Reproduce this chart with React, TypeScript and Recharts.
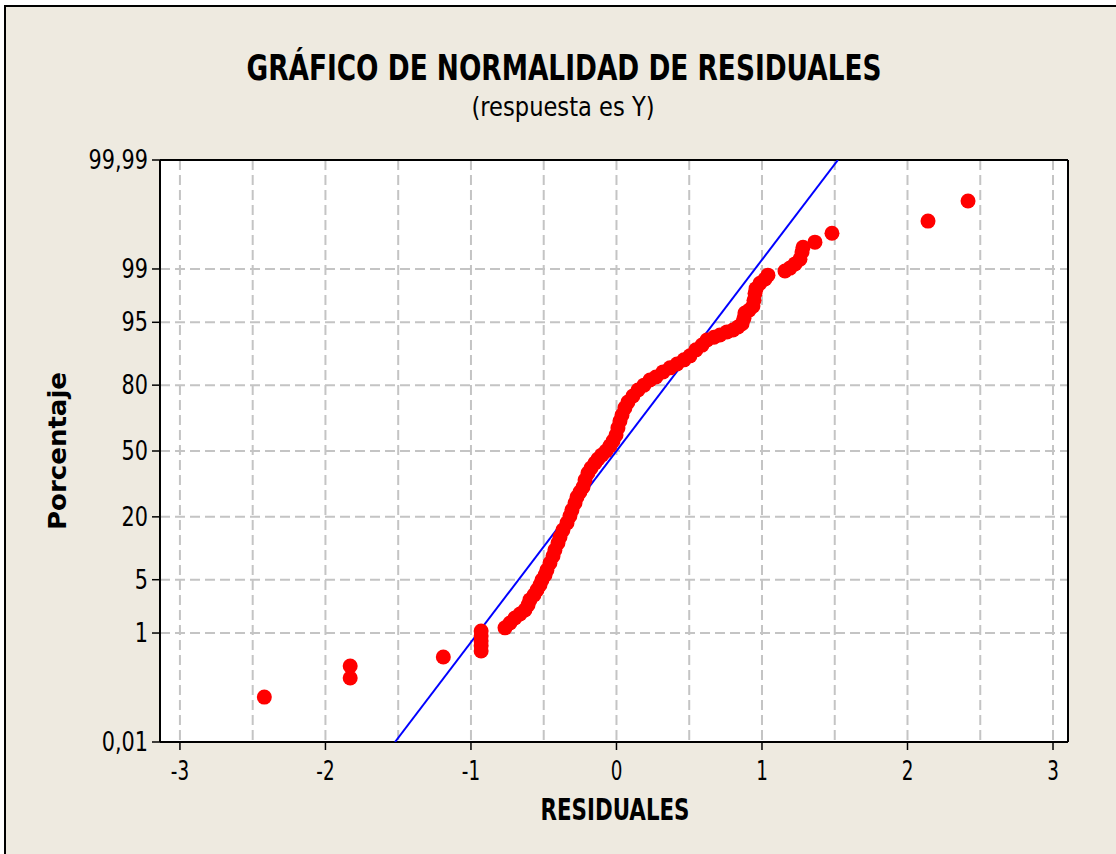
import React from 'react';
import { ScatterChart, Scatter, XAxis, YAxis, CartesianGrid, ReferenceLine } from 'recharts';

// residual, percent
const lowTail: [number, number][] = [
  [-2.42, 0.083],
  [-1.83, 0.186],
  [-1.83, 0.3],
  [-1.19, 0.423],
  [-0.93, 0.53],
  [-0.93, 0.64],
  [-0.93, 0.76],
  [-0.93, 0.9],
  [-0.93, 1.07],
];

const body: [number, number][] = [
  [-0.766, 1.19], [-0.732, 1.4], [-0.698, 1.64], [-0.663, 1.86], [-0.629, 2.11],
  [-0.608, 2.45], [-0.595, 2.85], [-0.567, 3.29], [-0.546, 3.79], [-0.526, 4.34],
  [-0.512, 4.96], [-0.491, 5.65], [-0.478, 6.41], [-0.457, 7.62], [-0.436, 8.98],
  [-0.423, 10.3], [-0.402, 12.0], [-0.388, 13.6], [-0.368, 15.6], [-0.34, 17.9],
  [-0.32, 20.3], [-0.306, 22.5], [-0.285, 25.3], [-0.271, 27.8], [-0.251, 30.0],
  [-0.23, 32.3], [-0.216, 35.5], [-0.196, 38.9], [-0.175, 41.4], [-0.148, 43.9],
  [-0.127, 45.9], [-0.1, 48.0], [-0.072, 50.0], [-0.045, 52.6], [-0.024, 55.1],
  [-0.003, 58.1], [0.01, 61.6], [0.024, 64.9], [0.038, 67.7], [0.058, 70.9],
  [0.079, 73.4], [0.113, 75.9], [0.148, 78.2], [0.189, 80.0], [0.23, 81.8],
  [0.271, 82.8], [0.32, 84.4], [0.368, 85.6], [0.416, 86.7], [0.464, 87.8],
  [0.505, 88.8], [0.546, 90.2], [0.588, 91.2], [0.622, 92.2], [0.67, 92.7],
  [0.711, 93.1], [0.759, 93.6], [0.801, 93.9], [0.835, 94.35], [0.863, 94.8],
  [0.876, 95.5], [0.883, 96.1], [0.911, 96.4], [0.938, 96.8], [0.945, 97.3],
  [0.952, 97.8], [0.959, 98.1], [0.986, 98.4], [1.021, 98.6], [1.041, 98.77],
];

const highTail: [number, number][] = [
  [1.158, 98.93], [1.192, 99.03], [1.227, 99.16], [1.261, 99.29], [1.275, 99.45],
  [1.282, 99.54], [1.364, 99.62], [1.481, 99.73], [2.141, 99.835], [2.416, 99.93],
];

// fitted normal line (residual, percent)
const fitLine: [number, number][] = [
  [-1.522, 0.01],
  [1.522, 99.99],
];

const xTicks = [-3, -2, -1, 0, 1, 2, 3];
const xGrid = [-3, -2.5, -2, -1.5, -1, -0.5, 0, 0.5, 1, 1.5, 2, 2.5, 3];
const yTickPercents = [0.01, 1, 5, 20, 50, 80, 95, 99, 99.99];
const yTickLabels = ['0,01', '1', '5', '20', '50', '80', '95', '99', '99,99'];

// inverse normal cdf (Acklam)
function probit(p: number) {
  const a = [-39.69683028665376, 220.9460984245205, -275.9285104469687, 138.357751867269, -30.66479806614716, 2.506628277459239];
  const b = [-54.47609879822406, 161.5858368580409, -155.6989798598866, 66.80131188771972, -13.28068155288572];
  const c = [-0.007784894002430293, -0.3223964580411365, -2.400758277161838, -2.549732539343734, 4.374664141464968, 2.938163982698783];
  const d = [0.007784695709041462, 0.3224671290700398, 2.445134137142996, 3.754408661907416];
  const pl = 0.02425;
  if (p < pl) {
    const q = Math.sqrt(-2 * Math.log(p));
    return (((((c[0] * q + c[1]) * q + c[2]) * q + c[3]) * q + c[4]) * q + c[5]) / ((((d[0] * q + d[1]) * q + d[2]) * q + d[3]) * q + 1);
  }
  if (p <= 1 - pl) {
    const q = p - 0.5;
    const r = q * q;
    return ((((((a[0] * r + a[1]) * r + a[2]) * r + a[3]) * r + a[4]) * r + a[5]) * q) / (((((b[0] * r + b[1]) * r + b[2]) * r + b[3]) * r + b[4]) * r + 1);
  }
  const q = Math.sqrt(-2 * Math.log(1 - p));
  return -(((((c[0] * q + c[1]) * q + c[2]) * q + c[3]) * q + c[4]) * q + c[5]) / ((((d[0] * q + d[1]) * q + d[2]) * q + d[3]) * q + 1);
}

const toPoints = (rows: [number, number][]) => rows.map(([r, p]) => ({ x: r, y: probit(p / 100) }));

const residualPoints = toPoints([...lowTail, ...body, ...highTail]);
const linePoints = toPoints(fitLine);
const yTicks = yTickPercents.map((p) => probit(p / 100));
const yMin = yTicks[0];
const yMax = yTicks[yTicks.length - 1];
const xMin = -3.137;
const xMax = 3.103;

const FONT = '"DejaVu Sans", Verdana, sans-serif';

const YTick = (props: any) => {
  const { x, y, payload } = props;
  let idx = 0;
  yTicks.forEach((t, i) => {
    if (Math.abs(t - payload.value) < Math.abs(yTicks[idx] - payload.value)) idx = i;
  });
  return (
    <text
      transform={`translate(${x - 2},${y + 9}) scale(0.8,1)`}
      textAnchor="end"
      fontSize={26}
      fontFamily={FONT}
      fill="#000"
    >
      {yTickLabels[idx]}
    </text>
  );
};

const XTick = (props: any) => {
  const { x, y, payload } = props;
  return (
    <text
      transform={`translate(${x},${y + 28}) scale(0.68,1)`}
      textAnchor="middle"
      fontSize={27}
      fontFamily={FONT}
      fill="#000"
    >
      {payload.value}
    </text>
  );
};

const Dot = (props: any) => <circle cx={props.cx} cy={props.cy} r={7.5} fill="#FF0000" />;

export default function App() {
  return (
    <div style={{ position: 'absolute', left: 0, top: 0, width: 1116, height: 854, background: '#fff', overflow: 'hidden' }}>
      <div
        style={{
          position: 'absolute',
          left: 4,
          top: 5,
          width: 1130,
          height: 870,
          background: '#EEEAE0',
          borderTop: '2px solid #000',
          borderLeft: '2px solid #000',
        }}
      />
      <div style={{ position: 'absolute', left: 0, top: 0 }}>
        <ScatterChart width={1116} height={854} margin={{ top: 160, right: 48, bottom: 72, left: 100 }}>
          <CartesianGrid
            fill="#FFFFFF"
            stroke="#C4C4C4"
            strokeWidth={2}
            strokeDasharray="10 5"
            verticalValues={xGrid}
            horizontalValues={yTicks}
          />
          <XAxis
            dataKey="x"
            type="number"
            domain={[xMin, xMax]}
            ticks={xTicks}
            interval={0}
            allowDataOverflow
            height={40}
            tickSize={8}
            axisLine={{ stroke: '#000', strokeWidth: 2 }}
            tickLine={{ stroke: '#000', strokeWidth: 1.5 }}
            tick={<XTick />}
          />
          <YAxis
            dataKey="y"
            type="number"
            domain={[yMin, yMax]}
            ticks={yTicks}
            interval={0}
            allowDataOverflow
            width={60}
            tickSize={8}
            axisLine={{ stroke: '#000', strokeWidth: 2 }}
            tickLine={{ stroke: '#000', strokeWidth: 1.5 }}
            tick={<YTick />}
          />
          <ReferenceLine y={yMax} stroke="#000" strokeWidth={2} />
          <ReferenceLine x={xMax} stroke="#000" strokeWidth={2} />
          <Scatter
            data={linePoints}
            line={{ stroke: '#0000FF', strokeWidth: 2 }}
            shape={() => <g />}
            isAnimationActive={false}
          />
          <Scatter data={residualPoints} shape={<Dot />} isAnimationActive={false} />
        </ScatterChart>
      </div>
      <svg width={1116} height={854} style={{ position: 'absolute', left: 0, top: 0, pointerEvents: 'none' }}>
        <text x={564} y={80} textAnchor="middle" fontSize={35} fontWeight="bold" fontFamily={FONT} textLength={635} lengthAdjust="spacingAndGlyphs" fill="#000">
          GRÁFICO DE NORMALIDAD DE RESIDUALES
        </text>
        <text x={563} y={116} textAnchor="middle" fontSize={27} fontFamily={FONT} textLength={183} lengthAdjust="spacingAndGlyphs" fill="#000">
          (respuesta es Y)
        </text>
        <text x={615} y={820} textAnchor="middle" fontSize={30} fontWeight="bold" fontFamily={FONT} textLength={149} lengthAdjust="spacingAndGlyphs" fill="#000">
          RESIDUALES
        </text>
        <text transform="translate(66,451) rotate(-90)" textAnchor="middle" fontSize={25} fontWeight="bold" fontFamily={FONT} textLength={158} lengthAdjust="spacingAndGlyphs" fill="#000">
          Porcentaje
        </text>
      </svg>
    </div>
  );
}
